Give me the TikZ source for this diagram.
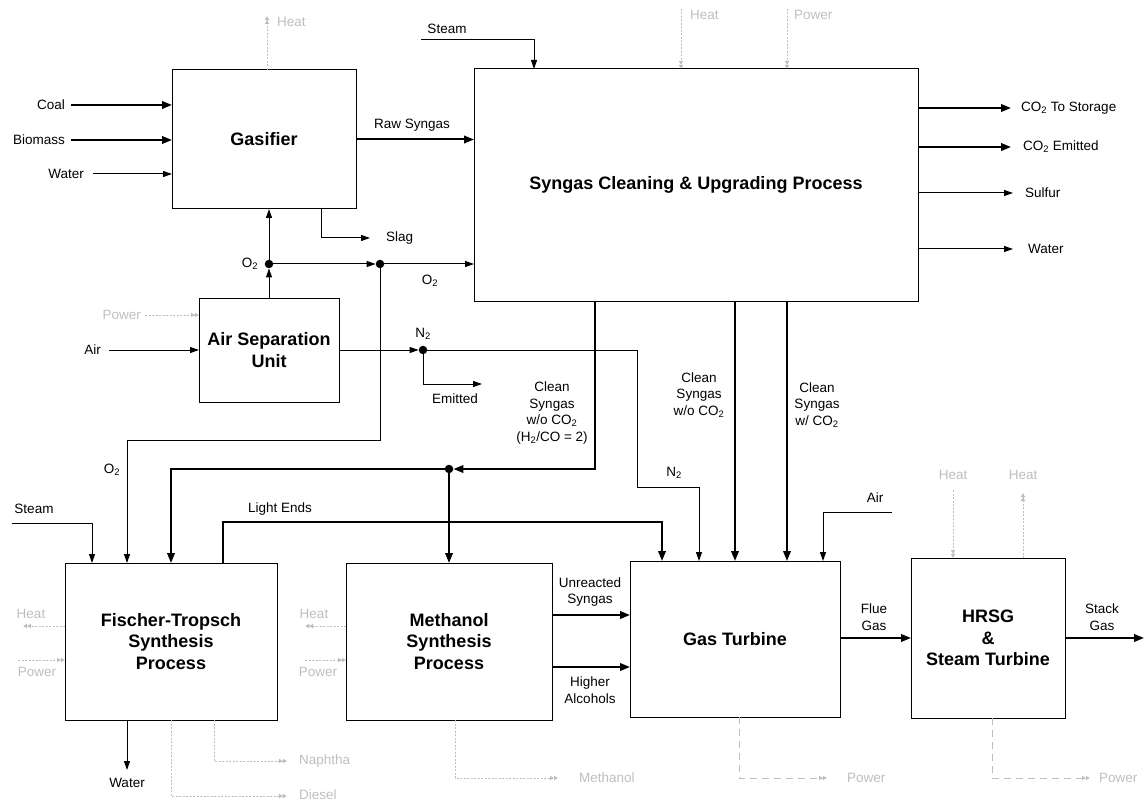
\documentclass[tikz,border=0pt]{standalone}
\usepackage{fontspec}
\setmainfont{Liberation Sans}
\usetikzlibrary{arrows.meta}
\definecolor{faintgray}{HTML}{BEBEBE}
\newcommand\lblfont{\fontsize{13.5}{16.5}\selectfont}
\newcommand\boxfont{\fontsize{18}{21.5}\selectfont\bfseries}
\newcommand\sbs[1]{\textsubscript{#1}}
\tikzset{
  unit/.style={draw, line width=1pt, inner sep=0pt, outer sep=0pt, anchor=north west,
    align=center, font=\boxfont},
  flow/.style={line width=1pt, -{Triangle[length=9pt,width=6pt]}},
  main/.style={line width=2pt, -{Triangle[length=10pt,width=7.5pt]}},
  util/.style={draw=faintgray, line width=0.9pt, dash pattern=on 2pt off 1.5pt,
    -{Latex[length=4pt,width=5pt]Latex[length=4pt,width=5pt]}},
  utilpow/.style={util, dash pattern=on 7pt off 5pt},
  lbl/.style={font=\lblfont, inner sep=1pt, align=center},
  faintlbl/.style={lbl, text=faintgray},
  dot/.style={circle, fill, inner sep=0pt, minimum size=8.5pt},
}
\begin{document}
\begin{tikzpicture}[x=1pt, y=-1pt]
\useasboundingbox (0,0) rectangle (1145,802);

% process units
\node[unit, minimum width=184pt, minimum height=139pt] (gas)  at (172,70)  {Gasifier};
\node[unit, minimum width=444pt, minimum height=232pt] (syn)  at (474,69)  {Syngas Cleaning \& Upgrading Process};
\node[unit, minimum width=140pt, minimum height=104pt] (asu)  at (199,298) {Air Separation\\Unit};
\node[unit, minimum width=212pt, minimum height=157pt] (ft)   at (65,563)  {Fischer-Tropsch\\Synthesis\\Process};
\node[unit, minimum width=206pt, minimum height=157pt] (meoh) at (346,563) {Methanol\\Synthesis\\Process};
\node[unit, minimum width=210pt, minimum height=156pt] (gt)   at (630,561) {Gas Turbine};
\node[unit, minimum width=154pt, minimum height=160pt] (hrsg) at (911,558) {HRSG\\\&\\Steam Turbine};

% junctions
\node[dot] (j1) at (269,264) {};
\node[dot] (j2) at (380,264) {};
\node[dot] (jn) at (423,350) {};
\node[dot] (jc) at (449,469) {};

% gasifier feeds
\coordinate (coal) at (71,105);
\coordinate (bio) at (71,140);
\coordinate (gw) at (93,174);
\draw[main] (coal) -- (coal -| gas.west);
\draw[main] (bio) -- (bio -| gas.west);
\draw[flow] (gw) -- (gw -| gas.west);
\node[lbl, anchor=east] (tcoal) at ([xshift=-5pt]coal) {Coal};
\node[lbl, anchor=east] (tbio) at ([xshift=-5pt]bio) {Biomass};
\node[lbl, anchor=east] (tgw) at ([xshift=-8pt]gw) {Water};

% raw syngas
\draw[main] (gas.east) -- (gas.east -| syn.west);
\node[lbl] (trs) at (412,125) {Raw Syngas};

% slag
\coordinate (slag) at (370,238);
\draw[flow] (321,0 |- gas.south) |- (slag);
\node[lbl, anchor=west] (tslag) at (385,238) {Slag};

% oxygen from the ASU
\draw[flow] (asu.north -| j1) -- (j1);
\draw[flow] (j1) -- (j1 |- gas.south);
\draw[flow] (j1) -- (j2);
\draw[flow] (j2) -- (j2 -| syn.west);
\node[lbl] (to2a) at (250,264) {O\sbs{2}};
\node[lbl] (to2b) at (430,281) {O\sbs{2}};
\coordinate (o2bend) at (127,440);
\draw[flow] (j2) |- (o2bend) -- (o2bend |- ft.north);
\node[lbl] (to2c) at (112,470) {O\sbs{2}};

% ASU feeds
\coordinate (air) at (109,350);
\draw[flow] (air) -- (air -| asu.west);
\node[lbl, anchor=east] (tair) at ([xshift=-7pt]air) {Air};
\coordinate (asupow) at (145,315);
\draw[util] (asupow) -- (asupow -| asu.west);
\node[faintlbl, anchor=east] (tasupow) at ([xshift=-3pt]asupow) {Power};

% nitrogen
\draw[flow] (asu.east |- jn) -- (jn);
\node[lbl] (tn2a) at (423,334) {N\sbs{2}};
\coordinate (emit) at (482,384);
\draw[flow] (jn) |- (emit);
\node[lbl] (temit) at (455,399) {Emitted};
\coordinate (n2bend) at (637,487);
\draw[flow] (jn) -| (n2bend) -| (699,0 |- gt.north);
\node[lbl] (tn2b) at (674,473) {N\sbs{2}};

% steam and utilities at the cleaning unit
\coordinate (steam) at (421,40);
\draw[flow] (steam) -| (534,0 |- syn.north);
\node[lbl] (tsteam) at (447,29) {Steam};
\coordinate (synheat) at (681,9);
\coordinate (synpow) at (787,9);
\draw[util] (synheat) -- (synheat |- syn.north);
\draw[util] (synpow) -- (synpow |- syn.north);
\node[faintlbl, anchor=west] (tsynheat) at (689,15) {Heat};
\node[faintlbl, anchor=west] (tsynpow) at (793,15) {Power};
\coordinate (gasheat) at (267,16);
\draw[util] (gasheat |- gas.north) -- (gasheat);
\node[faintlbl, anchor=west] (tgasheat) at (276,22) {Heat};

% cleaning unit products
\coordinate (co2s) at (1011,108);
\coordinate (co2e) at (1011,147);
\coordinate (sulf) at (1013,193);
\coordinate (synw) at (1013,249);
\draw[main] (co2s -| syn.east) -- (co2s);
\draw[main] (co2e -| syn.east) -- (co2e);
\draw[flow] (sulf -| syn.east) -- (sulf);
\draw[flow] (synw -| syn.east) -- (synw);
\node[lbl, anchor=west] (tco2s) at (1020,108) {CO\sbs{2} To Storage};
\node[lbl, anchor=west] (tco2e) at (1022,147) {CO\sbs{2} Emitted};
\node[lbl, anchor=west] (tsulf) at (1024,193) {Sulfur};
\node[lbl, anchor=west] (tsynw) at (1027,249) {Water};

% clean syngas streams
\coordinate (cs1) at (595,469);
\draw[main] (cs1 |- syn.south) -- (cs1) -- (jc);
\draw[main] (jc) -| (171,0 |- ft.north);
\draw[main] (jc) -- (jc |- meoh.north);
\node[lbl] (tcs1) at (552,413) {Clean\\Syngas\\w/o CO\sbs{2}\\(H\sbs{2}/CO = 2)};
\draw[main] (735,0 |- syn.south) -- (735,0 |- gt.north);
\node[lbl] (tcs2) at (699,395) {Clean\\Syngas\\w/o CO\sbs{2}};
\draw[main] (787,0 |- syn.south) -- (787,0 |- gt.north);
\node[lbl] (tcs3) at (817,405) {Clean\\Syngas\\w/ CO\sbs{2}};

% gas turbine air
\coordinate (airgt) at (892,512);
\draw[flow] (airgt) -| (823,0 |- gt.north);
\node[lbl] (tairgt) at (875,498) {Air};

% Fischer-Tropsch feeds and products
\coordinate (steamft) at (12,523);
\draw[flow] (steamft) -| (92,0 |- ft.north);
\node[lbl] (tsteamft) at (34,509) {Steam};
\coordinate (le) at (662,522);
\draw[main] (223,0 |- ft.north) |- (le) -- (le |- gt.north);
\node[lbl] (tle) at (280,509) {Light Ends};
\coordinate (ftw) at (127,770);
\draw[flow] (ftw |- ft.south) -- (ftw);
\node[lbl] (tftw) at (127,783) {Water};
\coordinate (naph) at (287,761);
\coordinate (dies) at (287,796);
\draw[util] (214,0 |- ft.south) |- (naph);
\draw[util] (171,0 |- ft.south) |- (dies);
\node[faintlbl, anchor=west] (tnaph) at (298,761) {Naphtha};
\node[faintlbl, anchor=west] (tdies) at (298,795) {Diesel};
\coordinate (ftheat) at (23,626);
\coordinate (ftpow) at (18,660);
\draw[util] (ftheat -| ft.west) -- (ftheat);
\draw[util] (ftpow) -- (ftpow -| ft.west);
\node[faintlbl] (tftheat) at (31,614) {Heat};
\node[faintlbl] (tftpow) at (37,672) {Power};

% methanol unit
\coordinate (meheat) at (305,626);
\coordinate (mepow) at (305,660);
\draw[util] (meheat -| meoh.west) -- (meheat);
\draw[util] (mepow) -- (mepow -| meoh.west);
\node[faintlbl] (tmeheat) at (314,614) {Heat};
\node[faintlbl] (tmepow) at (318,672) {Power};
\coordinate (meout) at (558,778);
\draw[util] (455,0 |- meoh.south) |- (meout);
\node[faintlbl, anchor=west] (tmeout) at (578,778) {Methanol};
\draw[main] (meoh.east |- 0,615) -- (gt.west |- 0,615);
\draw[main] (meoh.east |- 0,667) -- (gt.west |- 0,667);
\node[lbl] (tunr) at (590,592) {Unreacted\\Syngas};
\node[lbl] (thal) at (590,690) {Higher\\Alcohols};

% gas turbine outputs
\draw[main] (gt.east |- 0,638) -- (hrsg.west |- 0,638);
\node[lbl] (tflue) at (874,617) {Flue\\Gas};
\coordinate (gtpow) at (827,778);
\draw[utilpow] (739,0 |- gt.south) |- (gtpow);
\node[faintlbl, anchor=west] (tgtpow) at (846,778) {Power};

% HRSG and steam turbine
\coordinate (stack) at (1144,638);
\draw[main] (hrsg.east |- stack) -- (stack);
\node[lbl] (tstack) at (1102,617) {Stack\\Gas};
\coordinate (hin) at (953,490);
\coordinate (hout) at (1023,493);
\draw[util] (hin) -- (hin |- hrsg.north);
\draw[util] (hout |- hrsg.north) -- (hout);
\node[faintlbl] (thin) at (953,475) {Heat};
\node[faintlbl] (thout) at (1023,475) {Heat};
\coordinate (hpow) at (1090,778);
\draw[utilpow] (992,0 |- hrsg.south) |- (hpow);
\node[faintlbl, anchor=west] (thpow) at (1098,778) {Power};
\end{tikzpicture}
\end{document}
